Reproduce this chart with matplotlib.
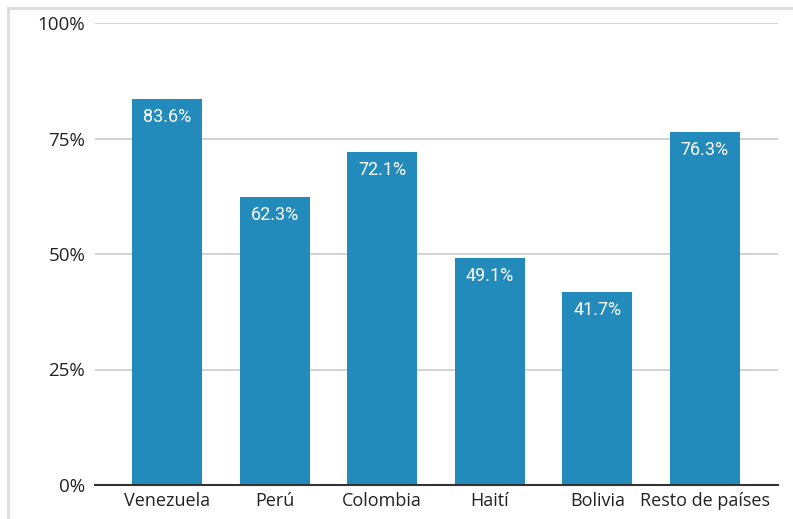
import matplotlib.pyplot as plt
from matplotlib.lines import Line2D

paises = ["Venezuela", "Perú", "Colombia", "Haití", "Bolivia", "Resto de países"]
valores = [83.6, 62.3, 72.1, 49.1, 41.7, 76.3]
yticks = [0, 25, 50, 75, 100]

plt.rcParams['font.family'] = ['Open Sans', 'DejaVu Sans']

fig = plt.figure(figsize=(7.93, 5.19), dpi=100)
ax = fig.add_axes([95/793, 1-485/519, (778-95)/793, (485-23)/519])

x = range(len(paises))
bars = ax.bar(x, valores, width=0.65, color="#238bbb", zorder=3)
for b, v in zip(bars, valores):
    ax.text(b.get_x() + b.get_width()/2, v - 1.9, f"{v:.1f}%", ha="center", va="top",
            color="white", fontsize=13, fontfamily="Roboto", zorder=4)

ax.set_xlim(-0.67, 5.68)
ax.set_ylim(0, 100)
ax.set_yticks(yticks)
ax.set_yticklabels([f"{t}%" for t in yticks])
ax.set_xticks(list(x))
ax.set_xticklabels(paises)
ax.grid(axis="y", color="#cccccc", linewidth=1.2, zorder=0)
for s in ["top", "right", "left"]:
    ax.spines[s].set_visible(False)
ax.spines["bottom"].set_color("#333333")
ax.spines["bottom"].set_linewidth(1.5)
ax.spines["bottom"].set_zorder(5)
ax.tick_params(axis="both", length=0, labelsize=13, colors="#222222")
ax.tick_params(axis="y", labelsize=13.5, pad=7)
ax.tick_params(axis="x", pad=5)

# marco gris de la captura
fig.add_artist(Line2D([8/793, 1], [1-8/519, 1-8/519], color="#dddddd", linewidth=2))
fig.add_artist(Line2D([8/793, 8/793], [0, 1-8/519], color="#dddddd", linewidth=2))

plt.savefig("out.png", dpi=100)
